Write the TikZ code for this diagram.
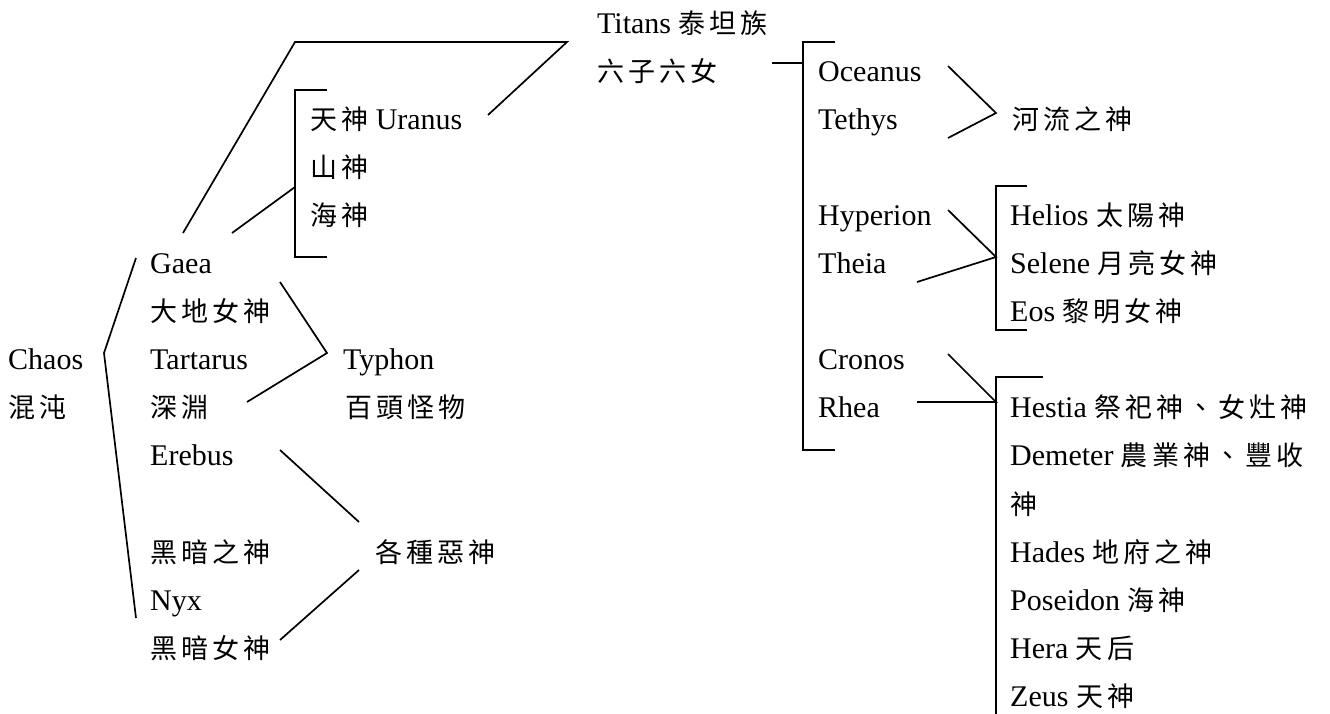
\documentclass[tikz,border=0pt]{standalone}
\usepackage{fontspec}
\setmainfont{Liberation Serif}
\newfontfamily\hanzifont{Noto Sans CJK TC}[Scale=0.9,LetterSpace=15]
\newcommand{\hanzi}[1]{{\hanzifont #1}}
\tikzstyle{god}=[inner sep=0pt, anchor=base west, font=\fontsize{30}{36}\selectfont]
\tikzstyle{branch}=[line width=1.7pt, line join=miter]

\begin{document}
\begin{tikzpicture}[x=1pt,y=-1pt]
  \useasboundingbox (0,0) rectangle (1330,713);
  % primordial
  \node[god] (chaos)    at (8,369.7)   {Chaos};
  \node[god] (hundun)   at (8,417.8)   {\hanzi{混沌}};
  \node[god] (gaea)     at (150,273.5) {Gaea};
  \node[god] (dadi)     at (150,321.6) {\hanzi{大地女神}};
  \node[god] (tartarus) at (150,369.7) {Tartarus};
  \node[god] (shenyuan) at (150,417.8) {\hanzi{深淵}};
  \node[god] (erebus)   at (150,465.9) {Erebus};
  \node[god] (heian)    at (150,562.1) {\hanzi{黑暗之神}};
  \node[god] (nyx)      at (150,610.2) {Nyx};
  \node[god] (heinv)    at (150,658.3) {\hanzi{黑暗女神}};
  \node[god] (typhon)   at (343,369.7) {Typhon};
  \node[god] (baitou)   at (345,417.8) {\hanzi{百頭怪物}};
  \node[god] (evil)     at (375,562.1) {\hanzi{各種惡神}};
  % children of Gaea
  \node[god] (uranus)   at (310,129.2) {\hanzi{天神} Uranus};
  \node[god] (shanshen) at (310,177.3) {\hanzi{山神}};
  \node[god] (haishen)  at (310,225.4) {\hanzi{海神}};
  \node[god] (titans)   at (597,33)    {Titans \hanzi{泰坦族}};
  \node[god] (liuzi)    at (597,81.1)  {\hanzi{六子六女}};
  % titans
  \node[god] (oceanus)  at (818,81.1)  {Oceanus};
  \node[god] (tethys)   at (818,129.2) {Tethys};
  \node[god] (hyperion) at (818,225.4) {Hyperion};
  \node[god] (theia)    at (818,273.5) {Theia};
  \node[god] (cronos)   at (818,369.7) {Cronos};
  \node[god] (rhea)     at (818,417.8) {Rhea};
  \node[god] (river)    at (1012,129.2) {\hanzi{河流之神}};
  \node[god] (helios)   at (1010,225.4) {Helios \hanzi{太陽神}};
  \node[god] (selene)   at (1010,273.5) {Selene \hanzi{月亮女神}};
  \node[god] (eos)      at (1010,321.6) {Eos \hanzi{黎明女神}};
  % olympians
  \node[god] (hestia)   at (1010,417.8) {Hestia \hanzi{祭祀神、女灶神}};
  \node[god] (demeter)  at (1010,465.9) {Demeter \hanzi{農業神、豐收}};
  \node[god] (demeterb) at (1010,514)   {\hanzi{神}};
  \node[god] (hades)    at (1010,562.1) {Hades \hanzi{地府之神}};
  \node[god] (poseidon) at (1010,610.2) {Poseidon \hanzi{海神}};
  \node[god] (hera)     at (1010,658.3) {Hera \hanzi{天后}};
  \node[god] (zeus)     at (1010,706.4) {Zeus \hanzi{天神}};

  \coordinate (chaostop)   at (136,258);
  \coordinate (chaosfork)  at (104,353);
  \coordinate (chaosbot)   at (136,618);
  \coordinate (gaeaup)     at (183,233);
  \coordinate (skyleft)    at (295,42);
  \coordinate (skyright)   at (567,42);
  \coordinate (uranusend)  at (488,115);
  \coordinate (gaeasea)    at (232,233);
  \coordinate (seafork)    at (295,187);
  \coordinate (sibtop)     at (327,90);
  \coordinate (sibbl)      at (295,257);
  \coordinate (sibbot)     at (327,257);
  \coordinate (typhonin)   at (280,282);
  \coordinate (typhonfork) at (327,353);
  \coordinate (typhonout)  at (247,402);
  \coordinate (erebusend)  at (280,450);
  \coordinate (evilup)     at (359,522);
  \coordinate (nyxend)     at (280,640);
  \coordinate (evildown)   at (359,570);
  \coordinate (titansout)  at (772,63);
  \coordinate (titansfork) at (803,63);
  \coordinate (tittop)     at (835,42);
  \coordinate (titbl)      at (803,450);
  \coordinate (titbot)     at (835,450);
  \coordinate (oceanusend) at (948,66);
  \coordinate (riverfork)  at (996,113);
  \coordinate (tethysend)  at (948,138);
  \coordinate (hyperend)   at (948,210);
  \coordinate (sunfork)    at (996,257);
  \coordinate (theiaend)   at (917,282);
  \coordinate (suntop)     at (1027,186);
  \coordinate (sunbl)      at (996,330);
  \coordinate (sunbot)     at (1027,330);
  \coordinate (cronosend)  at (948,354);
  \coordinate (olympfork)  at (996,402);
  \coordinate (rheaend)    at (917,402);
  \coordinate (olymptop)   at (1043,377);
  \coordinate (olympbl)    at (996,716);

  \draw[branch] (chaostop) -- (chaosfork) -- (chaosbot);
  \draw[branch] (gaeaup) -- (skyleft) -- (skyright) -- (uranusend);
  \draw[branch] (gaeasea) -- (seafork);
  \draw[branch] (sibtop) -| (sibbl) -- (sibbot);
  \draw[branch] (typhonin) -- (typhonfork) -- (typhonout);
  \draw[branch] (erebusend) -- (evilup);
  \draw[branch] (nyxend) -- (evildown);
  \draw[branch] (titansout) -- (titansfork);
  \draw[branch] (tittop) -| (titbl) -- (titbot);
  \draw[branch] (oceanusend) -- (riverfork) -- (tethysend);
  \draw[branch] (hyperend) -- (sunfork) -- (theiaend);
  \draw[branch] (suntop) -| (sunbl) -- (sunbot);
  \draw[branch] (cronosend) -- (olympfork) -- (rheaend);
  \draw[branch] (olymptop) -| (olympbl);
\end{tikzpicture}
\end{document}
